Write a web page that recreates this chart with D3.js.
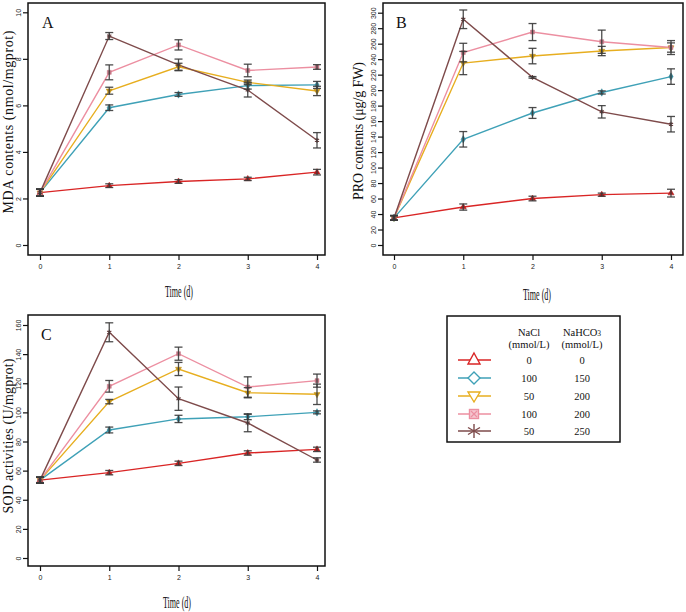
<!DOCTYPE html>
<html>
<head>
<meta charset="utf-8">
<script src="https://cdn.jsdelivr.net/npm/d3@7"></script>
<style>
  html, body { margin: 0; padding: 0; background: #fff; }
  svg { display: block; }
</style>
</head>
<body>
<svg id="chart" width="686" height="612"></svg>
<script>
// ---------------- DATA ----------------
const days = [0, 1, 2, 3, 4];
const naclLabels = ["0", "100", "50", "100", "50"];
const nahco3Labels = ["0", "150", "200", "200", "250"];

// MDA contents (nmol/mgprot)
const mdaMean = [
  [2.25, 2.55, 2.73, 2.84, 3.13],
  [2.25, 5.90, 6.47, 6.85, 6.88],
  [2.25, 6.63, 7.66, 6.99, 6.62],
  [2.25, 7.42, 8.60, 7.50, 7.65],
  [2.25, 8.98, 7.74, 6.66, 4.50]
];
const mdaErr = [
  [0.15, 0.08, 0.08, 0.07, 0.12],
  [0.15, 0.12, 0.08, 0.15, 0.15],
  [0.15, 0.15, 0.15, 0.10, 0.20],
  [0.15, 0.32, 0.22, 0.27, 0.10],
  [0.15, 0.15, 0.25, 0.30, 0.33]
];
const mdaTicks = [0, 2, 4, 6, 8, 10];

// PRO contents (µg/g FW)
const proMean = [
  [35, 49, 60, 65, 67],
  [35, 136.5, 170.5, 197, 217.5],
  [35, 235, 244, 250.5, 255],
  [35, 248.5, 275, 262.5, 255],
  [35, 291.5, 216.5, 172, 156]
];
const proErr = [
  [3, 4, 3, 2, 5],
  [3, 10, 7, 2, 10],
  [3, 15, 10, 6, 6],
  [3, 12, 11, 15, 9],
  [3, 12, 1, 8, 10]
];
const proTicks = d3.range(0, 301, 20);

// SOD activities (U/mgprot)
const sodMean = [
  [53.5, 58.6, 65, 72.1, 74.6],
  [53.5, 87.9, 95.5, 97, 100],
  [53.5, 107.4, 129.8, 113.5, 112.4],
  [53.5, 117.9, 140.3, 117.4, 121.8],
  [53.5, 155, 109.4, 92.7, 67.3]
];
const sodErr = [
  [2, 1.5, 1.5, 1.5, 1.5],
  [2, 2, 2.5, 2, 1],
  [2, 1.5, 4.5, 3.5, 7],
  [2, 4, 4.5, 7, 4.5],
  [2, 6.5, 8, 6, 1.5]
];
const sodTicks = d3.range(0, 161, 20);

// ---------------- STYLE ----------------
const colors = ["#d92525", "#3fa1b7", "#e7ae1f", "#ec8fa1", "#7e4b4b"];
const symTypes = ["triangle", "diamond", "triangleDown", "squareX", "asterisk"];
const serif = "'Liberation Serif', 'Times New Roman', serif";
const sans = "'Liberation Sans', Arial, sans-serif";

const svg = d3.select("#chart");

function symbolPath(type, size) {
  const s = size;
  switch (type) {
    case "triangle": return d3.symbol(d3.symbolTriangle, s)();
    case "diamond": return d3.symbol(d3.symbolDiamond, s)();
    case "triangleDown": return d3.symbol(d3.symbolTriangle, s)();
    case "squareX": return d3.symbol(d3.symbolSquare, s)();
    case "asterisk": return d3.symbol(d3.symbolAsterisk, s)();
  }
}

function drawPanel(cfg) {
  const g = svg.append("g");
  const x = d3.scaleLinear().domain([0, 4]).range(cfg.xRange);
  const y = d3.scaleLinear().domain(cfg.yDomain).range(cfg.yRange);

  // frame
  g.append("rect")
    .attr("x", cfg.frame[0]).attr("y", cfg.frame[1])
    .attr("width", cfg.frame[2] - cfg.frame[0])
    .attr("height", cfg.frame[3] - cfg.frame[1])
    .attr("fill", "none").attr("stroke", "#111").attr("stroke-width", 1.5);

  // x axis
  const xa = g.append("g")
    .attr("transform", `translate(0,${cfg.frame[3]})`)
    .call(d3.axisBottom(x).tickValues(days).tickSize(5).tickPadding(4).tickFormat(d3.format("d")));
  xa.select(".domain").remove();
  xa.selectAll("line").attr("stroke", "#111").attr("stroke-width", 1.2);
  xa.selectAll("text").attr("font-family", sans).attr("font-size", 7).attr("fill", "#222");

  // y axis
  const ya = g.append("g")
    .attr("transform", `translate(${cfg.frame[0]},0)`)
    .call(d3.axisLeft(y).tickValues(cfg.ticks).tickSize(5).tickFormat(d3.format("d")));
  ya.select(".domain").remove();
  ya.selectAll("line").attr("stroke", "#111").attr("stroke-width", 1.2);
  ya.selectAll("text")
    .attr("x", null).attr("dy", null)
    .attr("transform", "translate(-7,0) rotate(-90)")
    .attr("text-anchor", "middle")
    .attr("font-family", sans).attr("font-size", 7).attr("fill", "#222");

  // titles
  g.append("text")
    .attr("transform", `translate(${cfg.yTitlePos[0]},${cfg.yTitlePos[1]}) rotate(-90)`)
    .attr("text-anchor", "middle")
    .attr("font-family", serif).attr("font-size", 14).attr("fill", "#111")
    .attr("textLength", cfg.yTitleLen).attr("lengthAdjust", "spacing")
    .text(cfg.yTitle);
  g.append("text")
    .attr("x", cfg.xTitlePos[0]).attr("y", cfg.xTitlePos[1])
    .attr("text-anchor", "middle")
    .attr("font-family", serif).attr("font-size", 16).attr("fill", "#111")
    .attr("textLength", 28).attr("lengthAdjust", "spacingAndGlyphs")
    .text("Time (d)");
  g.append("text")
    .attr("x", cfg.letterPos[0]).attr("y", cfg.letterPos[1])
    .attr("font-family", serif).attr("font-size", 16).attr("fill", "#111")
    .text(cfg.letter);

  const line = d3.line().x((d, i) => x(days[i])).y(d => y(d));

  cfg.mean.forEach((vals, s) => {
    g.append("path").datum(vals)
      .attr("d", line)
      .attr("fill", "none")
      .attr("stroke", colors[s])
      .attr("stroke-width", 1.4);
  });
  cfg.mean.forEach((vals, s) => {
    const c = d3.color(colors[s]).darker(0.5);
    g.selectAll(null).data(vals).join("path")
      .attr("transform", (d, i) => `translate(${x(days[i])},${y(d)})` + (symTypes[s] === "triangleDown" ? " rotate(180)" : ""))
      .attr("d", symbolPath(symTypes[s], 16))
      .attr("fill", c).attr("stroke", c).attr("stroke-width", symTypes[s] === "asterisk" ? 1.2 : 0.5);
  });
  // error bars
  cfg.mean.forEach((vals, s) => {
    vals.forEach((v, i) => {
      const e = cfg.err[s][i];
      const cx = x(days[i]);
      const y1 = y(v + e), y2 = y(v - e);
      const eb = g.append("g").attr("stroke", "#3a3a3a").attr("stroke-width", 1.3).attr("stroke-opacity", 0.9);
      eb.append("line").attr("x1", cx).attr("x2", cx).attr("y1", y1).attr("y2", y2);
      eb.append("line").attr("x1", cx - 4).attr("x2", cx + 4).attr("y1", y1).attr("y2", y1);
      eb.append("line").attr("x1", cx - 4).attr("x2", cx + 4).attr("y1", y2).attr("y2", y2);
    });
  });
}

drawPanel({
  letter: "A", letterPos: [42, 28],
  frame: [28, 3, 325, 255], xRange: [40, 317],
  yDomain: [0, 10], yRange: [245, 12.3], ticks: mdaTicks,
  mean: mdaMean, err: mdaErr,
  yTitle: "MDA contents (nmol/mgprot)", yTitlePos: [13, 122], yTitleLen: 183,
  xTitlePos: [179, 297]
});
drawPanel({
  letter: "B", letterPos: [396, 28],
  frame: [383, 3, 683, 255], xRange: [394, 671],
  yDomain: [0, 300], yRange: [245, 12.7], ticks: proTicks,
  mean: proMean, err: proErr,
  yTitle: "PRO contents (μg/g FW)", yTitlePos: [363, 131], yTitleLen: 138,
  xTitlePos: [537, 300]
});
drawPanel({
  letter: "C", letterPos: [41, 340],
  frame: [28, 315, 325, 566], xRange: [40, 317],
  yDomain: [0, 160], yRange: [558, 325], ticks: sodTicks,
  mean: sodMean, err: sodErr,
  yTitle: "SOD activities (U/mgprot)", yTitlePos: [13, 436], yTitleLen: 155,
  xTitlePos: [177, 608]
});

// ---------------- LEGEND ----------------
const lg = svg.append("g");
lg.append("rect").attr("x", 447).attr("y", 316).attr("width", 173).attr("height", 126)
  .attr("fill", "none").attr("stroke", "#111").attr("stroke-width", 1.5);
const colA = 529, colB = 582;
const hdr = lg.append("g").attr("font-family", serif).attr("font-size", 10.5).attr("fill", "#111").attr("text-anchor", "middle");
hdr.append("text").attr("x", colA).attr("y", 336).text("NaCl");
hdr.append("text").attr("x", colA).attr("y", 348).text("(mmol/L)");
const t2 = hdr.append("text").attr("x", colB).attr("y", 336);
t2.append("tspan").text("NaHCO");
t2.append("tspan").attr("font-size", 7.5).text("3");
hdr.append("text").attr("x", colB).attr("y", 348).text("(mmol/L)");

const rowY = [360, 378, 396, 414, 431];
naclLabels.forEach((lab, i) => {
  const ry = rowY[i];
  lg.append("line").attr("x1", 458).attr("x2", 491).attr("y1", ry).attr("y2", ry)
    .attr("stroke", colors[i]).attr("stroke-width", 1.3);
  const mg = lg.append("g").attr("transform", `translate(474,${ry})`);
  const t = symTypes[i];
  if (t === "triangle") {
    mg.append("path").attr("d", "M0,-7 L6,4 L-6,4 Z").attr("fill", "#fff").attr("stroke", colors[i]).attr("stroke-width", 1.4);
  } else if (t === "diamond") {
    mg.append("path").attr("d", "M0,-6 L6,0 L0,6 L-6,0 Z").attr("fill", "#fff").attr("stroke", colors[i]).attr("stroke-width", 1.4);
  } else if (t === "triangleDown") {
    mg.append("path").attr("d", "M-6,-4 L6,-4 L0,6 Z").attr("fill", "#fff").attr("stroke", colors[i]).attr("stroke-width", 1.4);
  } else if (t === "squareX") {
    mg.append("rect").attr("x", -4.5).attr("y", -4.5).attr("width", 9).attr("height", 9).attr("fill", "#f6c6cf").attr("stroke", colors[i]).attr("stroke-width", 1.4);
    mg.append("path").attr("d", "M-3,-3 L3,3 M3,-3 L-3,3").attr("stroke", colors[i]).attr("stroke-width", 1.2);
  } else {
    mg.append("path").attr("d", "M0,-7 L0,7 M-6,-3.5 L6,3.5 M6,-3.5 L-6,3.5").attr("stroke", colors[i]).attr("stroke-width", 1.4);
  }
  lg.append("text").attr("x", colA).attr("y", ry + 4).attr("text-anchor", "middle")
    .attr("font-family", serif).attr("font-size", 10.5).attr("fill", "#111").text(lab);
  lg.append("text").attr("x", colB).attr("y", ry + 4).attr("text-anchor", "middle")
    .attr("font-family", serif).attr("font-size", 10.5).attr("fill", "#111").text(nahco3Labels[i]);
});
</script>
</body>
</html>
